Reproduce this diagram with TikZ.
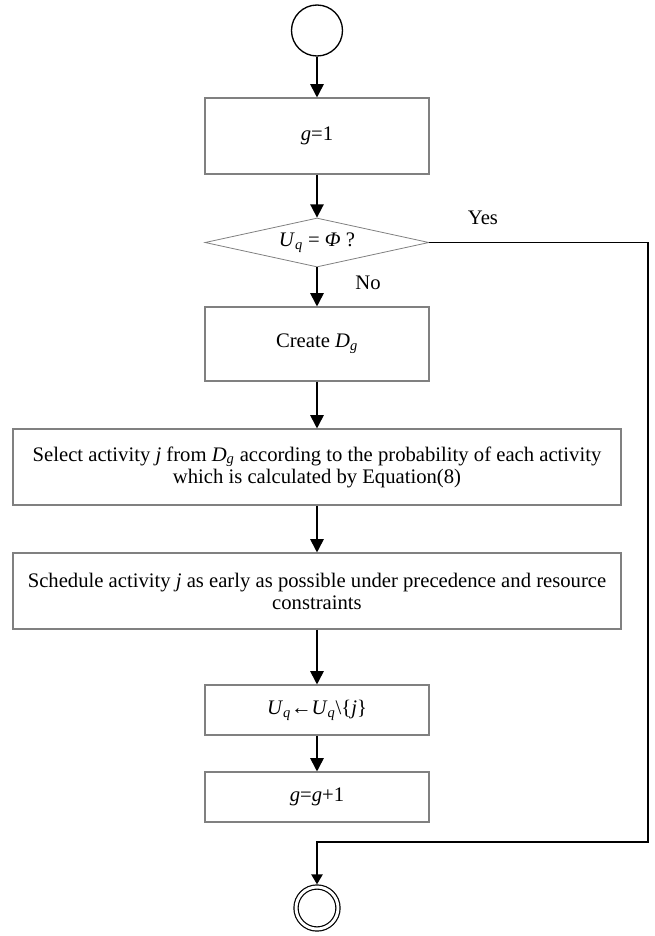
\documentclass[tikz,border=0pt]{standalone}
\usepackage{fontspec}
\setmainfont{Liberation Serif}
\usetikzlibrary{arrows.meta,shapes.geometric}
\newcommand{\ivar}[1]{\textit{#1}}
\newcommand{\isub}[2]{\textit{#1}\textsubscript{\textit{#2}}}
\tikzset{
  txt/.style={font=\fontsize{15.5}{16.5}\selectfont},
  procbox/.style={txt, draw=gray, line width=0.8pt, inner sep=0pt, align=center},
  smallbox/.style={procbox, minimum width=168pt, minimum height=57pt},
  lowbox/.style={procbox, minimum width=168pt, minimum height=37.5pt},
  widebox/.style={procbox, minimum width=456pt, minimum height=57pt},
  decision/.style={txt, shape=diamond, draw=gray, line width=0.6pt, aspect=4.57, inner sep=0pt, minimum width=168pt, minimum height=36.75pt},
  flowarrow/.style={line width=1.3pt, -{Triangle[length=10pt, width=10pt]}},
  loopline/.style={line width=1.2pt, -{Triangle[length=7.5pt, width=8.5pt]}}
}
\begin{document}
\begin{tikzpicture}[x=0.75pt, y=-0.75pt]
    \useasboundingbox (0,0) rectangle (655,936);

    % Terminals
    \node[circle, draw, line width=1pt, minimum size=38.25pt, inner sep=0pt] (start) at (317,30.5) {};
    \node[circle, draw, line width=0.9pt, double, double distance=2.2pt, minimum size=31.5pt, inner sep=0pt, outer sep=2pt] (stop) at (317,908) {};

    % Steps
    \node[smallbox] (init) at (317,136) {\ivar{g}=1};
    \node[decision] (check) at (317,242.5) {\isub{U}{q} = \ivar{Φ} ?};
    \node[smallbox, minimum height=55.5pt] (create) at (317,344) {Create \isub{D}{g}};
    \node[widebox] (select) at (317,467) {Select activity \ivar{j} from \isub{D}{g} according to the probability of each activity\\which is calculated by Equation(8)};
    \node[widebox] (sched) at (317,591) {Schedule activity \ivar{j} as early as possible under precedence and resource\\constraints};
    \node[lowbox] (remove) at (317,710) {\isub{U}{q}←\isub{U}{q}\textbackslash\{\ivar{j}\}};
    \node[lowbox] (incr) at (317,797) {\ivar{g}=\ivar{g}+1};

    % Branch labels
    \node[txt] (yeslbl) at (483,218) {Yes};
    \node[txt] (nolbl) at (368,283) {No};

    % Connectors
    \draw[flowarrow] (start) -- (init);
    \draw[flowarrow] (init) -- (check);
    \draw[flowarrow] (check) -- (create);
    \draw[flowarrow] (create) -- (select);
    \draw[flowarrow] (select) -- (sched);
    \draw[flowarrow] (sched) -- (remove);
    \draw[flowarrow] (remove) -- (incr);

    % Exit loop
    \coordinate (loopR) at (648,842);
    \draw[loopline] (check.east) -| (loopR) -| (stop.north);
\end{tikzpicture}
\end{document}
